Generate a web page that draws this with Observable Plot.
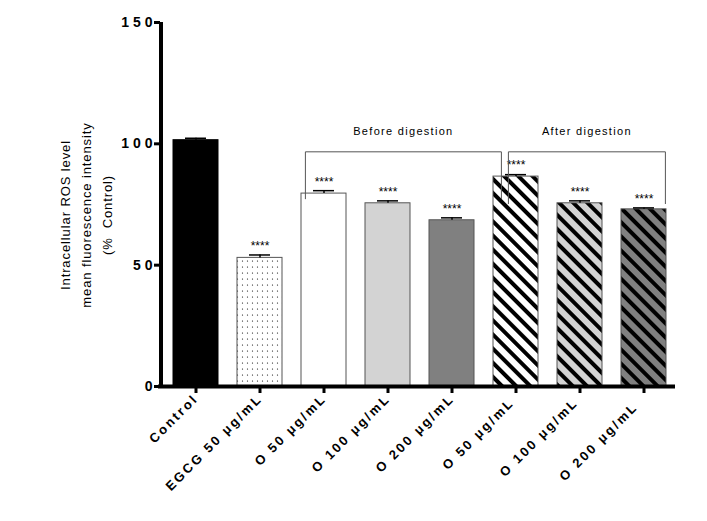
<!DOCTYPE html>
<html><head><meta charset="utf-8">
<script src="https://cdn.jsdelivr.net/npm/d3@7"></script>
<script src="https://cdn.jsdelivr.net/npm/@observablehq/plot@0.6"></script>
<style>body{margin:0;background:#fff}</style>
</head><body><div id="c"></div>
<script>
const categories = ["Control","EGCG 50 μg/mL","O 50 μg/mL","O 100 μg/mL","O 200 μg/mL","O 50 μg/mL ","O 100 μg/mL ","O 200 μg/mL  "];
const values = [101.5, 53, 79.5, 75.5, 68.5, 86.5, 75.5, 73];
const errors = [0.8, 1.2, 1.2, 1, 1, 0.8, 1, 0.6];
const fills = ["#000","url(#dots)","#fff","#d3d3d3","#808080","url(#h0)","url(#h1)","url(#h2)"];
const stars = ["","****","****","****","****","****","****","****"];
const groups = [{label:"Before digestion", from:2, to:4, top:96.5, bottom:77, padL:18, padR:50},
                {label:"After digestion", from:5, to:7, top:96.5, bottom:75, padL:7, padR:22}];
const yTicks = [0,50,100,150];
const data = categories.map((c,i)=>({c, v:values[i], e:errors[i], f:fills[i], s:stars[i]}));
const font = "Liberation Sans, Arial, sans-serif";

const bracket = (index, scales) => {
  const g = d3.create("svg:g");
  const step = scales.x(categories[1]) - scales.x(categories[0]);
  const half = step * 0.35;
  for (const gr of groups) {
    const x1 = scales.x(categories[gr.from]) + half - gr.padL;
    const x2 = scales.x(categories[gr.to]) + half + gr.padR;
    const yt = scales.y(gr.top), yb = scales.y(gr.bottom);
    g.append("path").attr("d",`M${x1},${yb}V${yt}H${x2}V${yb}`).attr("fill","none").attr("stroke","#555").attr("stroke-width",1);
    g.append("text").attr("x",(x1+x2)/2).attr("y",yt-17).attr("text-anchor","middle")
      .attr("font-size",11).attr("letter-spacing","1.3px").attr("font-family",font).text(gr.label);
  }
  return g.node();
};

const chart = Plot.plot({
  width: 707, height: 521, marginLeft: 163, marginRight: 32, marginTop: 22, marginBottom: 135,
  style: {fontFamily: font, background: "#fff", color:"#000"},
  x: {domain: categories, paddingInner: 0.3, paddingOuter: 0.15, label: null, axis: null},
  y: {domain: [0,150], label: null, axis: null},
  marks: [
    Plot.barY(data, {x:"c", y:"v", fill:"f", stroke:(d,i)=> i===0? "#000" : "#555", strokeWidth:1}),
    Plot.ruleX(data, {x:"c", y1:"v", y2:d=>d.v+d.e, stroke:"#000", strokeWidth:1.5}),
    Plot.tickY(data, {x:"c", y:d=>d.v+d.e, stroke:"#000", strokeWidth:1.5, inset:12}),
    Plot.text(data, {x:"c", y:d=>d.v+d.e, text:"s", dy:-9, fontSize:12, fill:"#000"}),
    Plot.axisY({ticks:yTicks, dx:-3, tickSize:6, tickPadding:2, fontSize:14, fontWeight:"bold", strokeWidth:3, label:null, tickFormat:d=>d.toString().split("").join(" ")}),
    Plot.axisX({tickSize:7, tickRotate:-45, fontSize:13, fontWeight:"bold", strokeWidth:3, label:null, tickPadding:3}),
    Plot.ruleX([0], {x: ()=>categories[0], dx:-35, y1:0, y2:150, stroke:"#000", strokeWidth:4}),
    Plot.ruleY([0], {stroke:"#000", strokeWidth:4, insetLeft:-5}),
    bracket
  ]
});
const defs = d3.select(chart).insert("defs", ":first-child");
const dots = defs.append("pattern").attr("id","dots").attr("patternUnits","userSpaceOnUse").attr("width",5).attr("height",6);
dots.append("rect").attr("width",5).attr("height",6).attr("fill","#fff");
dots.append("circle").attr("cx",2.5).attr("cy",3).attr("r",0.6).attr("fill","#000");
[["h0","#fff"],["h1","#d3d3d3"],["h2","#808080"]].forEach(([id,bg])=>{
  const p = defs.append("pattern").attr("id",id).attr("patternUnits","userSpaceOnUse").attr("width",10).attr("height",10).attr("patternTransform","rotate(-45)");
  p.append("rect").attr("width",10).attr("height",10).attr("fill",bg);
  p.append("rect").attr("width",4).attr("height",10).attr("fill","#000");
});
const svg = d3.select(chart);
svg.selectAll("[aria-label='x-axis tick label'] text").attr("letter-spacing","2.4px");
document.getElementById("c").append(chart);
const t = svg.append("text").attr("transform","translate(0,215) rotate(-90)").attr("text-anchor","middle").attr("font-size",13).attr("font-family",font).attr("letter-spacing","0.9px");
["Intracellular ROS level","mean fluorescence intensity","(%  Control)"].forEach((s,i)=>t.append("tspan").attr("x",0).attr("y",70+i*21).text(s));
</script></body></html>
